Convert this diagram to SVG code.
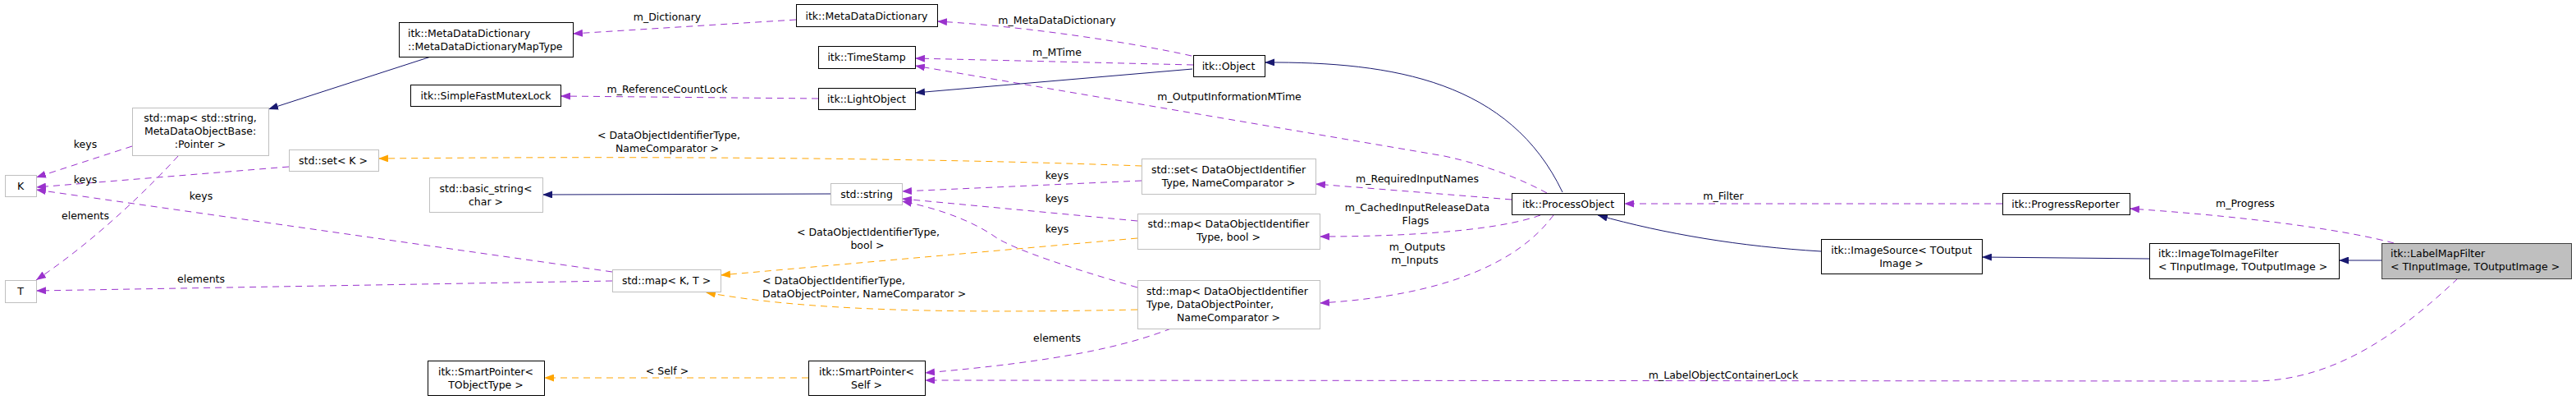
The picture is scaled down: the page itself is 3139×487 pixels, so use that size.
<svg xmlns="http://www.w3.org/2000/svg" width="3139" height="487" viewBox="0 0 3139 487">
<style>
text{font-family:"DejaVu Sans","Liberation Sans",sans-serif;font-size:12.5px;fill:#000}
.c{text-anchor:middle}
.s{text-anchor:start}
.n rect{fill:#fff;stroke:#000;stroke-width:1}
.g rect{fill:#fff;stroke:#bfbfbf;stroke-width:1}
.cur rect{fill:#bfbfbf;stroke:#404040;stroke-width:1}
.p{fill:none;stroke:#9a32cd;stroke-width:1;stroke-dasharray:8,6}
.b{fill:none;stroke:#191970;stroke-width:1}
.o{fill:none;stroke:#ffa500;stroke-width:1;stroke-dasharray:8,6}
.p{marker-end:url(#ap)}
.b{marker-end:url(#ab)}
.o{marker-end:url(#ao)}
</style>
<defs>
<marker id="ap" markerUnits="userSpaceOnUse" markerWidth="12" markerHeight="9" refX="12" refY="4.5" orient="auto"><path d="M0,0 L12,4.5 L0,9 z" fill="#9a32cd" stroke="none"/></marker>
<marker id="ab" markerUnits="userSpaceOnUse" markerWidth="12" markerHeight="9" refX="12" refY="4.5" orient="auto"><path d="M0,0 L12,4.5 L0,9 z" fill="#191970" stroke="none"/></marker>
<marker id="ao" markerUnits="userSpaceOnUse" markerWidth="12" markerHeight="9" refX="12" refY="4.5" orient="auto"><path d="M0,0 L12,4.5 L0,9 z" fill="#ffa500" stroke="none"/></marker>
</defs>
<rect x="0" y="0" width="3139" height="487" fill="#fff"/>

<g id="edges">
<path class="p" d="M161,178 L44,216"/>
<text class="c" x="104" y="180">keys</text>
<path class="p" d="M352,203 L44,228"/>
<text class="c" x="104" y="223">keys</text>
<path class="p" d="M746,331 L44,231"/>
<text class="c" x="245" y="243">keys</text>
<path class="p" d="M217,190 C185,225 120,290 44,341"/>
<text class="c" x="104" y="267">elements</text>
<path class="p" d="M746,342 L44,354"/>
<text class="c" x="245" y="344">elements</text>
<path class="p" d="M970,24 L698,41"/>
<text class="c" x="813" y="25">m_Dictionary</text>
<path class="p" d="M1452,68 C1380,52 1250,32 1142,26"/>
<text class="c" x="1288" y="29">m_MetaDataDictionary</text>
<path class="p" d="M1454,79 L1115,71"/>
<text class="c" x="1288" y="68">m_MTime</text>
<path class="p" d="M1885,235 C1855,219 1815,202 1760,190 L1115,80"/>
<text class="c" x="1498" y="122">m_OutputInformationMTime</text>
<path class="p" d="M997,120 L683,117"/>
<text class="c" x="813" y="113">m_ReferenceCountLock</text>
<path class="p" d="M1842,243 L1603,224"/>
<text class="c" x="1727" y="222">m_RequiredInputNames</text>
<path class="p" d="M1877,262 C1830,279 1730,288 1608,288"/>
<text class="c" x="1727" y="257">m_CachedInputReleaseData</text>
<text class="c" x="1725" y="273">Flags</text>
<path class="p" d="M1893,262 C1850,320 1760,360 1608,369"/>
<text class="c" x="1727" y="305">m_Outputs</text>
<text class="c" x="1724" y="321">m_Inputs</text>
<path class="p" d="M1391,220 L1099,233"/>
<text class="c" x="1288" y="218">keys</text>
<path class="p" d="M1386,269 L1099,242"/>
<text class="c" x="1288" y="246">keys</text>
<path class="p" d="M1386,350 C1300,325 1240,305 1215,290 C1190,272 1150,255 1099,245"/>
<text class="c" x="1288" y="283">keys</text>
<path class="p" d="M1427,400 C1370,422 1290,440 1127,454"/>
<text class="c" x="1288" y="416">elements</text>
<path class="p" d="M2995,339 C2930,400 2850,462 2750,464 L1127,463"/>
<text class="c" x="2100" y="461">m_LabelObjectContainerLock</text>
<path class="p" d="M2917,296 C2870,283 2760,265 2595,254"/>
<text class="c" x="2736" y="252">m_Progress</text>
<path class="p" d="M2440,248 L1979,248"/>
<text class="c" x="2100" y="243">m_Filter</text>

<path class="b" d="M525,69 L327,133"/>
<path class="b" d="M1453,84 L1115,113"/>
<path class="b" d="M1904,234 C1840,100 1700,75 1541,76"/>
<path class="b" d="M1012,236 L661,237"/>
<path class="b" d="M2219,306 C2120,300 2030,285 1947,262"/>
<path class="b" d="M2619,315 L2415,313"/>
<path class="b" d="M2902,317 L2850,317"/>

<path class="o" d="M1391,202 C1200,195 900,189 461,193"/>
<text class="c" x="815" y="169">&lt; DataObjectIdentifierType,</text>
<text class="c" x="813" y="185">NameComparator &gt;</text>
<path class="o" d="M1386,290 L878,335"/>
<text class="c" x="1058" y="287">&lt; DataObjectIdentifierType,</text>
<text class="c" x="1057" y="303">bool &gt;</text>
<path class="o" d="M1386,377 C1150,382 980,378 860,356"/>
<text class="s" x="929" y="346">&lt; DataObjectIdentifierType,</text>
<text class="s" x="929" y="362">DataObjectPointer, NameComparator &gt;</text>
<path class="o" d="M985,460 L663,460"/>
<text class="c" x="813" y="456">&lt; Self &gt;</text>
</g>

<g id="K" class="g"><rect x="6.5" y="213.5" width="38" height="26"/><text class="c" x="25" y="231">K</text></g>
<g id="T" class="g"><rect x="6.5" y="341.5" width="38" height="27"/><text class="c" x="25" y="359">T</text></g>
<g id="stdmap_string" class="g"><rect x="161.5" y="131.5" width="166" height="58"/>
<text class="c" x="244" y="148">std::map&lt; std::string,</text>
<text class="c" x="244" y="164">MetaDataObjectBase:</text>
<text class="c" x="244" y="180">:Pointer &gt;</text></g>
<g id="stdset_K" class="g"><rect x="352.5" y="182.5" width="109" height="26"/><text class="c" x="406" y="200">std::set&lt; K &gt;</text></g>
<g id="MapType" class="n"><rect x="486.5" y="27.5" width="212" height="42"/>
<text class="s" x="497" y="45">itk::MetaDataDictionary</text>
<text class="s" x="497" y="61">::MetaDataDictionaryMapType</text></g>
<g id="SimpleFastMutexLock" class="n"><rect x="500.5" y="103.5" width="183" height="26"/><text class="c" x="592" y="121">itk::SimpleFastMutexLock</text></g>
<g id="basic_string" class="g"><rect x="523.5" y="216.5" width="138" height="42"/>
<text class="c" x="592" y="234">std::basic_string&lt;</text>
<text class="c" x="592" y="250">char &gt;</text></g>
<g id="SmartPointer_T" class="n"><rect x="521.5" y="439.5" width="142" height="42"/>
<text class="c" x="592" y="457">itk::SmartPointer&lt;</text>
<text class="c" x="592" y="473">TObjectType &gt;</text></g>
<g id="stdmap_KT" class="g"><rect x="746.5" y="328.5" width="132" height="27"/><text class="c" x="812" y="346">std::map&lt; K, T &gt;</text></g>
<g id="MetaDataDictionary" class="n"><rect x="970.5" y="5.5" width="172" height="27"/><text class="c" x="1056" y="24">itk::MetaDataDictionary</text></g>
<g id="TimeStamp" class="n"><rect x="997.5" y="56.5" width="118" height="27"/><text class="c" x="1056" y="74">itk::TimeStamp</text></g>
<g id="LightObject" class="n"><rect x="997.5" y="107.5" width="118" height="26"/><text class="c" x="1056" y="125">itk::LightObject</text></g>
<g id="stdstring" class="g"><rect x="1012.5" y="223.5" width="87" height="26"/><text class="c" x="1056" y="241">std::string</text></g>
<g id="SmartPointer_Self" class="n"><rect x="985.5" y="439.5" width="142" height="42"/>
<text class="c" x="1056" y="457">itk::SmartPointer&lt;</text>
<text class="c" x="1056" y="473">Self &gt;</text></g>
<g id="Object" class="n"><rect x="1454.5" y="67.5" width="87" height="26"/><text class="c" x="1497" y="85">itk::Object</text></g>
<g id="stdset_DOI" class="g"><rect x="1391.5" y="193.5" width="212" height="43"/>
<text class="c" x="1497" y="211">std::set&lt; DataObjectIdentifier</text>
<text class="c" x="1497" y="227">Type, NameComparator &gt;</text></g>
<g id="stdmap_bool" class="g"><rect x="1386.5" y="260.5" width="222" height="43"/>
<text class="c" x="1497" y="277">std::map&lt; DataObjectIdentifier</text>
<text class="c" x="1497" y="293">Type, bool &gt;</text></g>
<g id="stdmap_ptr" class="g"><rect x="1386.5" y="341.5" width="222" height="59"/>
<text class="s" x="1397" y="359">std::map&lt; DataObjectIdentifier</text>
<text class="s" x="1397" y="375">Type, DataObjectPointer,</text>
<text class="c" x="1497" y="391">NameComparator &gt;</text></g>
<g id="ProcessObject" class="n"><rect x="1842.5" y="235.5" width="137" height="26"/><text class="c" x="1911" y="253">itk::ProcessObject</text></g>
<g id="ImageSource" class="n"><rect x="2219.5" y="291.5" width="196" height="42"/>
<text class="c" x="2317" y="309">itk::ImageSource&lt; TOutput</text>
<text class="c" x="2317" y="325">Image &gt;</text></g>
<g id="ProgressReporter" class="n"><rect x="2440.5" y="235.5" width="155" height="26"/><text class="c" x="2517" y="253">itk::ProgressReporter</text></g>
<g id="ImageToImageFilter" class="n"><rect x="2619.5" y="296.5" width="231" height="43"/>
<text class="s" x="2630" y="313">itk::ImageToImageFilter</text>
<text class="s" x="2630" y="329">&lt; TInputImage, TOutputImage &gt;</text></g>
<g id="LabelMapFilter" class="cur"><rect x="2902.5" y="296.5" width="231" height="43"/>
<text class="s" x="2913" y="313">itk::LabelMapFilter</text>
<text class="s" x="2913" y="329">&lt; TInputImage, TOutputImage &gt;</text></g>
</svg>
